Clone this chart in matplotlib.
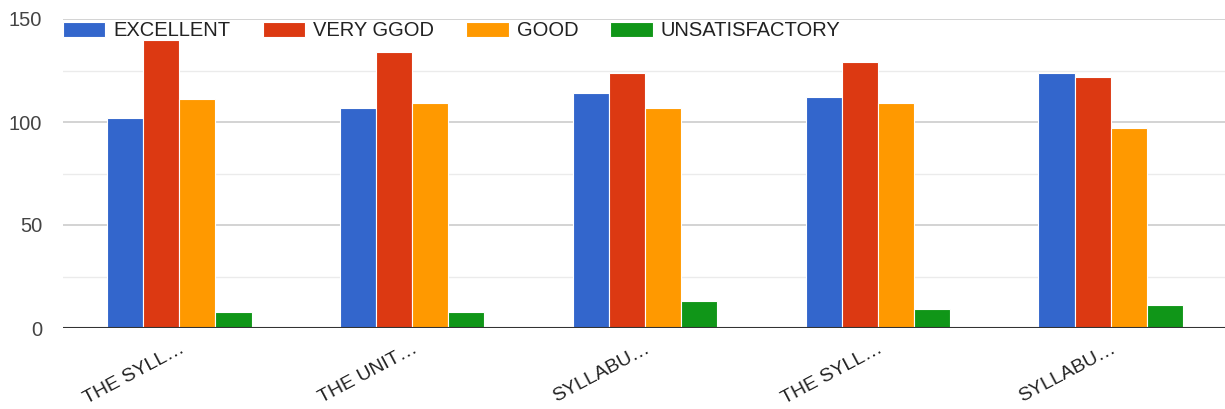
import numpy as np
import matplotlib.pyplot as plt
from matplotlib.ticker import MultipleLocator

plt.rcParams['font.family'] = ['Liberation Sans', 'DejaVu Sans']

categories = ["THE SYLL…", "THE UNIT…", "SYLLABU…", "THE SYLL…", "SYLLABU…"]
series_names = ["EXCELLENT", "VERY GGOD", "GOOD", "UNSATISFACTORY"]
excellent = [102, 107, 114, 112, 124]
very_good = [140, 134, 124, 129, 122]
good = [111, 109, 107, 109, 97]
unsatisfactory = [8, 8, 13, 9, 11]
colors = ["#3366cc", "#dc3912", "#ff9900", "#109618"]

values = [excellent, very_good, good, unsatisfactory]

fig = plt.figure(figsize=(12.25, 4.09), dpi=100)
ax = fig.add_axes([63 / 1225, 1 - 328 / 409, 1164 / 1225, 309 / 409])

x = np.arange(len(categories))
n = len(values)
width = 0.155
handles = []
for i, (vals, col, name) in enumerate(zip(values, colors, series_names)):
    offs = (i - (n - 1) / 2) * width
    b = ax.bar(x + offs, vals, width, color=col, edgecolor="white",
               linewidth=0.8, label=name, zorder=3)
    handles.append(b)

ax.set_xlim(-0.5, len(categories) - 0.5)
ax.set_ylim(0, 150)
ax.yaxis.set_major_locator(MultipleLocator(50))
ax.yaxis.set_minor_locator(MultipleLocator(25))
ax.grid(axis="y", which="major", color="#cccccc", linewidth=1.2, zorder=0)
ax.grid(axis="y", which="minor", color="#ebebeb", linewidth=1.0, zorder=0)
ax.axhline(0, color="#333333", linewidth=1.5, zorder=4)

for s in ax.spines.values():
    s.set_visible(False)

ax.tick_params(axis="both", which="both", length=0)
ax.tick_params(axis="y", labelsize=14.5, labelcolor="#444444", pad=15)
ax.set_xticks(x)
ax.set_xticklabels(categories, rotation=28, ha="right", rotation_mode="anchor",
                   fontsize=14, color="#222222")
ax.tick_params(axis="x", pad=9)
for lbl in ax.get_xticklabels():
    lbl.set_x(lbl.get_position()[0] + 0.02)

fig.legend(handles=handles, labels=series_names, loc="center left",
           bbox_to_anchor=(63 / 1225, 1 - 31 / 409), ncol=4, frameon=False,
           fontsize=14.5, handlelength=2.1, handleheight=0.8, handletextpad=0.4,
           columnspacing=1.6, borderpad=0, borderaxespad=0,
           labelcolor="#222222")

fig.savefig("out.png", dpi=100)
